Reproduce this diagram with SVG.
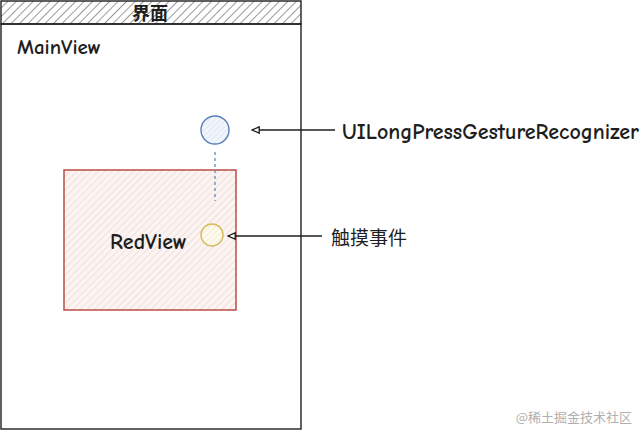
<svg xmlns="http://www.w3.org/2000/svg" width="641" height="431" viewBox="0 0 641 431">
<defs>
<pattern id="hatchGray" width="6" height="6" patternUnits="userSpaceOnUse" patternTransform="rotate(45)">
<rect width="6" height="6" fill="#ffffff"/>
<line x1="0" y1="0" x2="0" y2="6" stroke="#555" stroke-width="1.2"/>
</pattern>
<pattern id="hatchRed" width="5" height="5" patternUnits="userSpaceOnUse" patternTransform="rotate(45)">
<rect width="5" height="5" fill="#fbf4f2"/>
<line x1="0" y1="0" x2="0" y2="5" stroke="#e6cfc9" stroke-width="1"/>
</pattern>
<pattern id="hatchBlue" width="4" height="4" patternUnits="userSpaceOnUse" patternTransform="rotate(45)">
<rect width="4" height="4" fill="#f2f6fb"/>
<line x1="0" y1="0" x2="0" y2="4" stroke="#c9d8ec" stroke-width="1"/>
</pattern>
<pattern id="hatchYellow" width="4" height="4" patternUnits="userSpaceOnUse" patternTransform="rotate(45)">
<rect width="4" height="4" fill="#fdf9ee"/>
<line x1="0" y1="0" x2="0" y2="4" stroke="#f0e2c0" stroke-width="1"/>
</pattern>
<marker id="arrow" viewBox="0 0 10 10" refX="9" refY="5" markerWidth="9" markerHeight="9" orient="auto" markerUnits="userSpaceOnUse">
<path d="M1,1.5 L9,5 L1,8.5 Z" fill="#ffffff" stroke="#1e1e1e" stroke-width="1.5"/>
</marker>
</defs>
<style>
.hand{font-family:"Comic Neue","Liberation Sans","Noto Sans CJK SC",sans-serif;font-weight:bold;fill:#1e1e1e}
.cjk{font-family:"Noto Sans CJK SC","Noto Sans CJK TC",sans-serif;fill:#1e1e1e}
.edge{stroke:#1e1e1e;stroke-width:1.4;fill:none}
</style>
<rect width="641" height="431" fill="#ffffff"/>
<g id="mainview">
<rect x="1" y="1" width="300" height="23" fill="url(#hatchGray)" stroke="#1e1e1e" stroke-width="1.4"/>
<rect x="1" y="24" width="300" height="405" fill="none" stroke="#1e1e1e" stroke-width="1.4"/>
<text x="150" y="20" class="cjk" font-size="18" font-weight="bold" text-anchor="middle">界面</text>
<text x="17" y="54" class="hand" font-size="21">MainView</text>
</g>
<g id="redview">
<rect x="64" y="170" width="172" height="140" fill="url(#hatchRed)" stroke="#b5413b" stroke-width="1.4"/>
<text x="110" y="249" class="hand" font-size="22">RedView</text>
</g>
<g id="recognizer">
<circle cx="215" cy="130" r="14" fill="url(#hatchBlue)" stroke="#5b7fb5" stroke-width="1.4"/>
</g>
<g id="touch">
<circle cx="212" cy="235" r="11" fill="url(#hatchYellow)" stroke="#d9b95a" stroke-width="1.4"/>
</g>
<g id="label-recognizer">
<text x="342" y="139" class="hand" font-size="22">UILongPressGestureRecognizer</text>
</g>
<g id="label-touch">
<text x="331" y="245" class="cjk" font-size="19">触摸事件</text>
</g>
<g id="connectors">
<line x1="215" y1="152" x2="215" y2="201" stroke="#5b7fb5" stroke-width="1.2" stroke-dasharray="3,3"/>
<line x1="335" y1="130" x2="252" y2="130" class="edge" marker-end="url(#arrow)"/>
<line x1="322" y1="236" x2="228" y2="236" class="edge" marker-end="url(#arrow)"/>
</g>
<text x="632" y="422" font-family="Noto Sans CJK SC, sans-serif" font-size="13" fill="#b0b0b0" text-anchor="end">@稀土掘金技术社区</text>
</svg>
